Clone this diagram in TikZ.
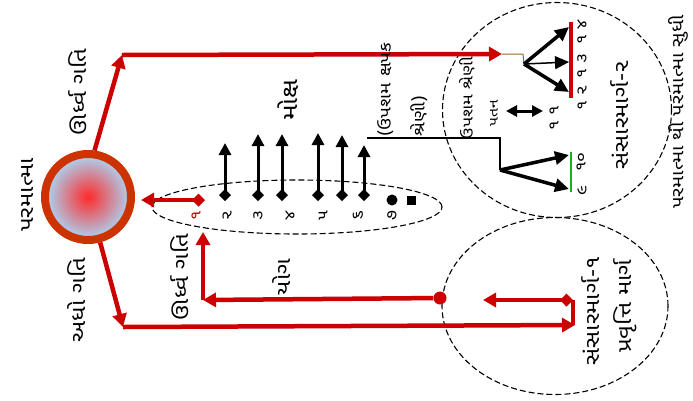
\documentclass[tikz,border=0pt]{standalone}
\usepackage{fontspec}
\newfontfamily\guj[Script=Gujarati,FakeStretch=1.2]{Noto Sans Gujarati UI}
\usetikzlibrary{arrows.meta,shapes.geometric}
\definecolor{redl}{HTML}{CC0000}
\definecolor{ring}{HTML}{CC3300}
\definecolor{sky}{HTML}{A8D8F8}
\definecolor{core}{HTML}{FF2A2A}
\definecolor{brn}{HTML}{996633}
\definecolor{grn}{HTML}{22AA22}
\begin{document}
\begin{tikzpicture}[x=1pt,y=-1pt,
  lbl/.style={font=\guj\fontsize{20}{22}\selectfont, inner sep=0pt, rotate=90},
  mlbl/.style={font=\guj\fontsize{15}{17}\selectfont, inner sep=0pt, rotate=90},
  slbl/.style={font=\guj\fontsize{13}{14}\selectfont, inner sep=0pt, rotate=90},
  redline/.style={draw=redl, line width=4.5pt},
  redarrow/.style={redline, -{Triangle[length=13pt,width=14pt]}},
  reddbl/.style={redline, {Triangle[length=13pt,width=14pt]}-{Diamond[length=13pt,width=13pt]}},
  blkarrow/.style={draw=black, line width=3pt, {Diamond[length=12pt,width=12pt]}-{Triangle[length=12pt,width=12pt]}},
  fanarrow/.style={draw=black, line width=3.5pt, -{Triangle[length=14pt,width=13pt]}},
  dashcirc/.style={ellipse, draw=black, line width=1.1pt, dash pattern=on 6pt off 3pt}]
\useasboundingbox (0,0) rectangle (693,400);
\fill[white] (0,0) rectangle (693,400);

% circles
\node[dashcirc, minimum width=229pt, minimum height=215pt] (up) at (557,110) {};
\node[dashcirc, minimum width=226pt, minimum height=177pt] (lo) at (555,306) {};
\node[dashcirc, minimum width=290pt, minimum height=54pt] (gs) at (297,207) {};

% paramatma
\node[circle, minimum size=86pt, draw=ring, line width=8pt, inner color=core, outer color=sky] (pm) at (88,197) {};
\node[lbl] (tpm) at (27,195) {પરમાત્મા};

% top red path
\coordinate (p1) at (122,55);
\coordinate (p2) at (502,54);
\coordinate (p3) at (523,54);
\coordinate (fan) at (524,64);
\draw[redarrow] (pm.82) -- (p1);
\draw[redarrow] (p1) -- (p2);
\draw[brn, line width=1pt] (p2) -- (p3) -- (fan);
\node[lbl] (tup) at (78,92) {ઊર્ધ્વ ગતિ};

% fan to 12 13 14
\coordinate (n14) at (569,27);
\coordinate (n13) at (569,62);
\coordinate (n12) at (569,92);
\coordinate (bar1) at (571,22);
\coordinate (bar2) at (571,98);
\draw[redl, line width=4pt] (bar1) -- (bar2);
\draw[fanarrow] (fan) -- (n14);
\draw[draw=black, line width=1.5pt, -{Triangle[length=14pt,width=13pt]}] (fan) -- (n13);
\draw[fanarrow] (fan) -- (n12);
\node[mlbl] (l14) at (582,32) {૧ ૪};
\node[mlbl] (l13) at (582,66) {૧ ૩};
\node[mlbl] (l12) at (582,98) {૧ ૨};

% eleven
\coordinate (e1) at (506,111);
\coordinate (e2) at (543,111);
\draw[draw=black, line width=3pt, {Triangle[length=11pt,width=11pt]}-{Triangle[length=11pt,width=11pt]}] (e1) -- (e2);
\node[mlbl] (l11) at (554,118) {૧ ૧};
\node[slbl] (tup2) at (494,113) {પતન};
\node[mlbl] (tup3) at (467,98) {ઉપશમ શ્રેણી};

% line to 9 10
\coordinate (g7t) at (367,138);
\coordinate (k1) at (500,138);
\coordinate (k2) at (500,170);
\coordinate (n10) at (569,155);
\coordinate (n9) at (569,189);
\draw[black, line width=1.2pt] (g7t) -- (k1) -- (k2);
\draw[fanarrow] (k2) -- (n10);
\draw[fanarrow] (k2) -- (n9);
\draw[grn, line width=1.5pt] (571,152) -- (571,192);
\node[mlbl] (l10) at (581,162) {૧૦};
\node[mlbl] (l9) at (582,191) {૯};

% gunasthana arrows
\foreach \nm/\x/\t in {a2/225/143, a3/258/134, a4/282/134, a5/318/133, a6/342/135, a7/364/145}{
  \coordinate (\nm b) at (\x,201);
  \coordinate (\nm t) at (\x,\t);
  \draw[blkarrow] (\nm b) -- (\nm t);
}
\node[circle, fill=black, minimum size=11pt, inner sep=0pt] (dot8) at (392,200) {};
\node[rectangle, fill=black, minimum size=9pt, inner sep=0pt] (sq8) at (411,200) {};
\node[mlbl, text=redl] (d1) at (196,216) {૧};
\foreach \nm/\x/\d in {d2/227/૨, d3/258/૩, d4/290/૪, d5/323/૫, d6/358/૬, d7/392/૭}{
  \node[mlbl] (\nm) at (\x,216) {\d};
}
\node[lbl, font=\guj\fontsize{22}{24}\selectfont] (tmid) at (288,100) {મોક્ષ};
\node[font=\guj\fontsize{16}{34}\selectfont, inner sep=0pt, rotate=90, align=left, anchor=north west] (tkev) at (377,137) {(ઉપશમ ક્ષપક\\ શ્રેણી)};

% red return
\coordinate (r1) at (141,200);
\coordinate (r2) at (205,200);
\draw[reddbl] (r1) -- (r2);
\coordinate (q1) at (440,298);
\coordinate (q2) at (203,300);
\coordinate (q3) at (203,232);
\node[circle, fill=redl, minimum size=13pt, inner sep=0pt] (qdot) at (q1) {};
\draw[redarrow] (qdot) -- (q2);
\draw[redarrow] (q2) -- (q3);
\node[lbl] (tret) at (180,277) {ઊર્ધ્વ ગતિ};
\node[lbl] (tyog) at (282,277) {યોગ};

% bottom red path
\coordinate (b1) at (123,327);
\coordinate (b2) at (575,325);
\coordinate (b3) at (573,300);
\coordinate (b4) at (483,300);
\draw[redarrow] (pm.-75) -- (b1);
\draw[redarrow] (b1) -- (b2);
\draw[redline] (573,325) -- (b3);
\draw[reddbl] (b4) -- (b3);
\node[lbl] (tdn) at (77,300) {અધો ગતિ};

% circle labels
\node[lbl] (s1) at (591,311) {સંસારમાર્ગ-૧};
\node[lbl] (s1b) at (625,306) {પ્રવૃત્તિ માર્ગ};
\node[lbl] (s2) at (620,115) {સંસારમાર્ગ-૨};
\node[lbl, font=\guj\fontsize{17}{19}\selectfont] (tside) at (678,112) {પરમાત્મા થી પરમાત્મા સુધી};
\end{tikzpicture}
\end{document}
